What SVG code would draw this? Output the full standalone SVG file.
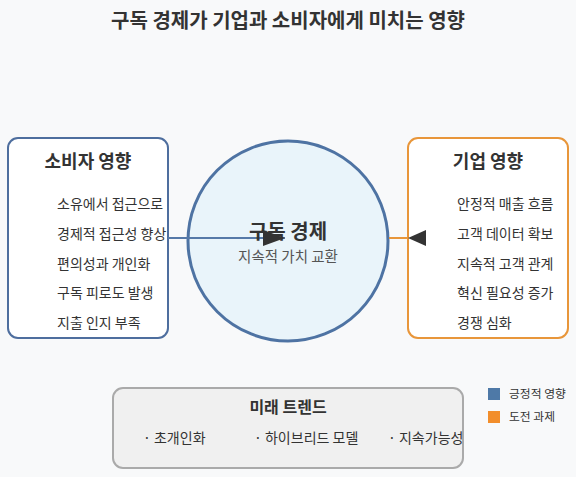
<svg xmlns="http://www.w3.org/2000/svg" width="576" height="477" viewBox="0 0 576 477">
<style>
text{font-family:"Noto Sans CJK KR","Noto Sans",sans-serif;fill:#333}
.title{font-size:20px;font-weight:bold;text-anchor:middle}
.h{font-size:18px;font-weight:bold;text-anchor:middle}
.item{font-size:14px}
.box{fill:#fff;stroke-width:2}
.small{font-size:11.8px}
</style>
<defs>
<marker id="ah" viewBox="0 0 22 16" refX="22" refY="8" markerWidth="22" markerHeight="16" orient="auto" markerUnits="userSpaceOnUse">
<path d="M0,0 L22,8 L0,16 Z" fill="#333"/>
</marker>
</defs>
<rect x="0" y="0" width="576" height="477" fill="#f8f9fa"/>
<text class="title" x="288" y="28">구독 경제가 기업과 소비자에게 미치는 영향</text>

<g id="consumer">
<rect class="box" x="8" y="138" width="160" height="200" rx="10" stroke="#4e6e9e"/>
<text class="h" x="88" y="168">소비자 영향</text>
<text class="item" x="57" y="209">소유에서 접근으로</text>
<text class="item" x="57" y="239">경제적 접근성 향상</text>
<text class="item" x="57" y="269">편의성과 개인화</text>
<text class="item" x="57" y="298">구독 피로도 발생</text>
<text class="item" x="57" y="328">지출 인지 부족</text>
</g>

<g id="business">
<rect class="box" x="408" y="138" width="160" height="200" rx="10" stroke="#e8963a"/>
<text class="h" x="488" y="168">기업 영향</text>
<text class="item" x="457" y="209">안정적 매출 흐름</text>
<text class="item" x="457" y="239">고객 데이터 확보</text>
<text class="item" x="457" y="269">지속적 고객 관계</text>
<text class="item" x="457" y="298">혁신 필요성 증가</text>
<text class="item" x="457" y="328">경쟁 심화</text>
</g>

<g id="center">
<circle cx="288" cy="241" r="100" fill="#e9f4fa" stroke="#4e73a3" stroke-width="3"/>
</g>

<g id="connectors">
<line x1="168" y1="238" x2="285" y2="238" stroke="#5679a8" stroke-width="2" marker-end="url(#ah)"/>
<line x1="389" y1="238" x2="408" y2="238" stroke="#e8963a" stroke-width="2"/>
<path d="M426,230 L408,238 L426,246 Z" fill="#333"/>
</g>

<g id="center-text">
<text x="288" y="239" style="font-size:20px;font-weight:bold;text-anchor:middle">구독 경제</text>
<text x="288" y="262" style="font-size:14.5px;text-anchor:middle;fill:#555">지속적 가치 교환</text>
</g>

<g id="trends">
<rect x="113" y="388" width="350" height="80" rx="10" fill="#f0f0f0" stroke="#aaa" stroke-width="2"/>
<text x="288" y="413" style="font-size:16px;font-weight:bold;text-anchor:middle">미래 트렌드</text>
<text class="item" x="143" y="443">· 초개인화</text>
<text class="item" x="254" y="443">· 하이브리드 모델</text>
<text class="item" x="388" y="443">· 지속가능성</text>
</g>

<g id="legend">
<rect x="488" y="388" width="12" height="12" fill="#4e79a7"/>
<text class="small" x="509" y="398">긍정적 영향</text>
<rect x="488" y="411" width="12" height="12" fill="#f28e2b"/>
<text class="small" x="509" y="421">도전 과제</text>
</g>
</svg>
